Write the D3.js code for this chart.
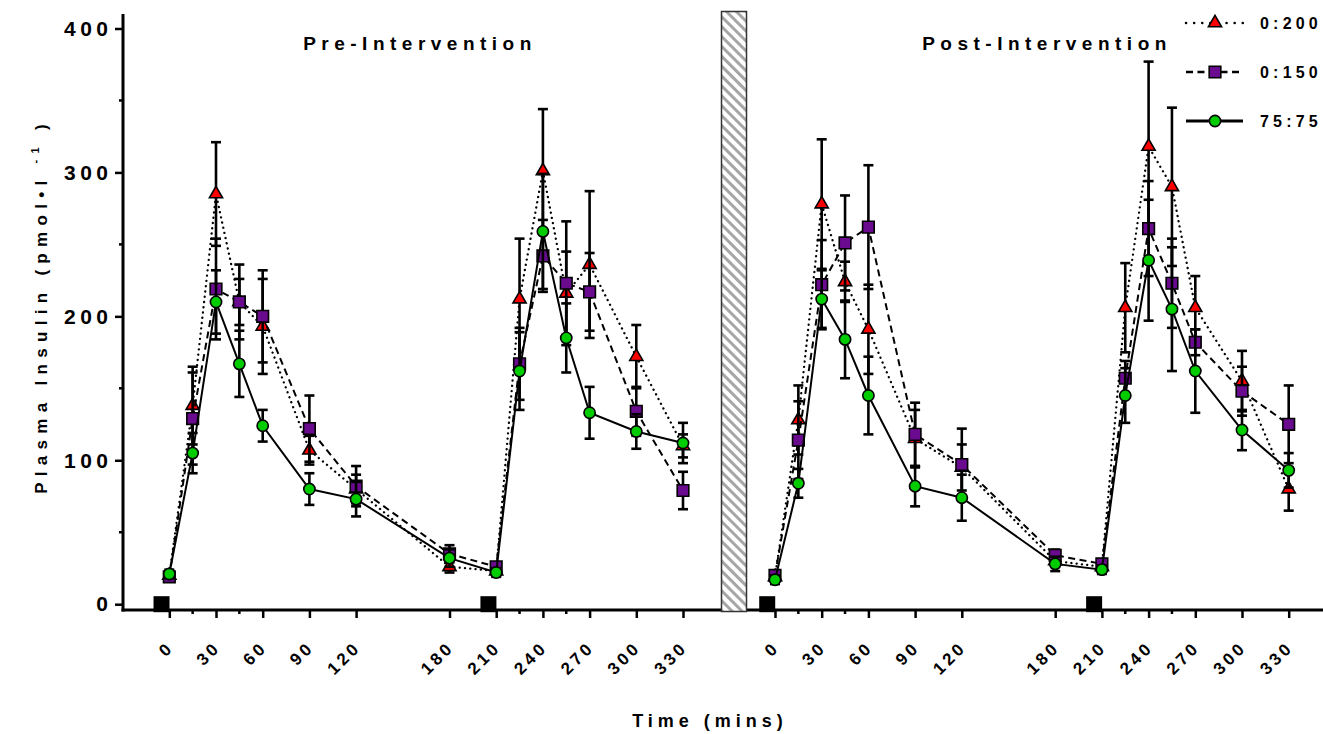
<!DOCTYPE html>
<html>
<head>
<meta charset="utf-8">
<script src="https://cdn.jsdelivr.net/npm/d3@7"></script>
<style>
  body { margin: 0; background: #fff; }
  text { font-family: "Liberation Sans", Arial, sans-serif; font-weight: bold; fill: #000; }
</style>
</head>
<body>
<div id="chart"></div>
<script>
// sampling times (mins)
const times = [0, 15, 30, 45, 60, 90, 120, 180, 210, 225, 240, 255, 270, 300, 330];
const tickTimes = [0, 30, 60, 90, 120, 180, 210, 240, 270, 300, 330];
const minorTimes = [15, 45, 225, 255];
const mealTimes = [-5, 205];
const yTicks = [0, 100, 200, 300, 400];
const yMinor = [50, 150, 250, 350];

// Pre-Intervention
const preTri     = [20, 138, 285, 210, 193, 107, 80, 26, 23, 212, 301, 216, 236, 172, 110];
const preTriSem  = [3, 27, 36, 16, 33, 10, 10, 4, 3, 42, 43, 29, 51, 22, 8];
const preSq      = [19, 129, 219, 210, 200, 122, 82, 35, 26, 167, 242, 223, 217, 134, 79];
const preSqSem   = [3, 32, 35, 26, 32, 23, 14, 6, 3, 25, 25, 43, 27, 17, 13];
const preCirc    = [21, 105, 210, 167, 124, 80, 73, 32, 22, 162, 259, 185, 133, 120, 112];
const preCircSem = [3, 14, 22, 23, 11, 11, 12, 6, 3, 27, 40, 24, 18, 12, 14];

// Post-Intervention
const postTri     = [19, 128, 278, 224, 191, 115, 95, 30, 26, 206, 318, 290, 206, 155, 80];
const postTriSem  = [3, 24, 45, 14, 31, 20, 16, 4, 3, 31, 59, 55, 22, 21, 15];
const postSq      = [20, 114, 222, 251, 262, 118, 97, 34, 28, 157, 261, 223, 182, 148, 125];
const postSqSem   = [3, 27, 31, 33, 43, 22, 25, 4, 3, 12, 33, 31, 9, 17, 27];
const postCirc    = [17, 84, 212, 184, 145, 82, 74, 28, 24, 145, 239, 205, 162, 121, 93];
const postCircSem = [3, 10, 20, 27, 27, 14, 16, 5, 3, 19, 42, 43, 29, 14, 12];

const seriesNames = ["0:200", "0:150", "75:75"];

const W = 1323, H = 734;
const svg = d3.select("#chart").append("svg")
    .attr("width", W).attr("height", H);

// hatch for the break bar
const defs = svg.append("defs");
defs.append("pattern")
    .attr("id", "hatch")
    .attr("patternUnits", "userSpaceOnUse")
    .attr("width", 7).attr("height", 7)
    .attr("patternTransform", "rotate(-45)")
  .append("rect")
    .attr("width", 3).attr("height", 7)
    .attr("fill", "#a6a6a6");

const y = d3.scaleLinear().domain([0, 400]).range([604.2, 28.5]);
const axisY = 610;

const xPre = d3.scaleLinear().domain([0, 330]).range([169.3, 683]);
const xPost = d3.scaleLinear().domain([0, 330]).range([775, 1288.7]);

const styles = [
  { dash: "0.1,5.2", cap: "round", sym: d3.symbolTriangle, size: 75, fill: "#ff0000" },
  { dash: "7,4.5",   cap: "butt",  sym: d3.symbolSquare,   size: 135, fill: "#6a0a8e" },
  { dash: null,      cap: "butt",  sym: d3.symbolCircle,   size: 100, fill: "#00cc00" }
];

function drawPanel(x, means, sems) {
  const g = svg.append("g");
  means.forEach((vals, si) => {
    const st = styles[si];
    const pts = times.map((t, i) => ({ t, v: vals[i], e: sems[si][i] }));
    const line = d3.line().x(d => x(d.t)).y(d => y(d.v));
    g.append("path")
        .datum(pts)
        .attr("d", line)
        .attr("fill", "none")
        .attr("stroke", "#000")
        .attr("stroke-width", si === 0 ? 2.3 : 2)
        .attr("stroke-linecap", st.cap)
        .attr("stroke-dasharray", st.dash);
    const eb = g.append("g").attr("stroke", "#000").attr("stroke-width", 2.6);
    pts.forEach(d => {
      const x0 = x(d.t), y1 = y(d.v + d.e), y2 = y(d.v - d.e);
      eb.append("line").attr("x1", x0).attr("x2", x0).attr("y1", y1).attr("y2", y2);
      eb.append("line").attr("x1", x0 - 5).attr("x2", x0 + 5).attr("y1", y1).attr("y2", y1);
      eb.append("line").attr("x1", x0 - 5).attr("x2", x0 + 5).attr("y1", y2).attr("y2", y2);
    });
    g.selectAll(null)
      .data(pts)
      .join("path")
        .attr("transform", d => `translate(${x(d.t)},${y(d.v)})`)
        .attr("d", d3.symbol().type(st.sym).size(st.size))
        .attr("fill", st.fill)
        .attr("stroke", "#000")
        .attr("stroke-width", 1.6);
  });
  // meal markers
  g.selectAll(null)
    .data(mealTimes)
    .join("rect")
      .attr("x", d => x(d) - 8)
      .attr("y", y(0) - 8)
      .attr("width", 16).attr("height", 16)
      .attr("fill", "#000");
}

function drawXAxis(x, x0, x1) {
  const gx = svg.append("g").attr("transform", `translate(0,${axisY})`);
  gx.call(d3.axisBottom(x).tickValues(tickTimes).tickSize(8).tickSizeOuter(0).tickFormat(d3.format("d")));
  gx.select(".domain").remove();
  gx.selectAll(".tick line").attr("stroke", "#000").attr("stroke-width", 2.5);
  gx.selectAll(".tick text")
      .attr("font-size", 17)
      .attr("letter-spacing", 3.5)
      .attr("text-anchor", "end")
      .attr("y", 0).attr("dy", "0.35em")
      .attr("transform", "translate(1,34) rotate(-45)");
  gx.selectAll(null)
    .data(minorTimes)
    .join("line")
      .attr("x1", d => x(d)).attr("x2", d => x(d))
      .attr("y1", 0).attr("y2", 4)
      .attr("stroke", "#000").attr("stroke-width", 2.5);
  gx.append("line")
      .attr("x1", x0).attr("x2", x1)
      .attr("y1", 0).attr("y2", 0)
      .attr("stroke", "#000").attr("stroke-width", 3);
}

drawPanel(xPre, [preTri, preSq, preCirc], [preTriSem, preSqSem, preCircSem]);
drawPanel(xPost, [postTri, postSq, postCirc], [postTriSem, postSqSem, postCircSem]);

drawXAxis(xPre, 121.5, 721);
drawXAxis(xPost, 746, 1323);

// y axis
const gy = svg.append("g").attr("transform", "translate(123,0)");
gy.call(d3.axisLeft(y).tickValues(yTicks).tickSize(8).tickSizeOuter(0));
gy.select(".domain").remove();
gy.selectAll(".tick line").attr("stroke", "#000").attr("stroke-width", 2.5);
gy.selectAll(".tick text")
    .attr("font-size", 21)
    .attr("letter-spacing", 4.5)
    .attr("x", -10.5);
gy.selectAll(null)
  .data(yMinor)
  .join("line")
    .attr("x1", -4).attr("x2", 0)
    .attr("y1", d => y(d)).attr("y2", d => y(d))
    .attr("stroke", "#000").attr("stroke-width", 2.5);
gy.append("line")
    .attr("x1", 0).attr("x2", 0)
    .attr("y1", y(410)).attr("y2", axisY + 1.5)
    .attr("stroke", "#000").attr("stroke-width", 3);

// break bar between panels
svg.append("rect")
    .attr("x", 721.5).attr("y", 11.5)
    .attr("width", 25).attr("height", 600)
    .attr("fill", "url(#hatch)")
    .attr("stroke", "#333")
    .attr("stroke-width", 1.5);

// panel titles
svg.append("text").attr("x", 420).attr("y", 50)
    .attr("text-anchor", "middle").attr("font-size", 19).attr("letter-spacing", 5.5)
    .text("Pre-Intervention");
svg.append("text").attr("x", 1047).attr("y", 50)
    .attr("text-anchor", "middle").attr("font-size", 19).attr("letter-spacing", 5.5)
    .text("Post-Intervention");

// axis titles
svg.append("text").attr("x", 710).attr("y", 727)
    .attr("text-anchor", "middle").attr("font-size", 18).attr("letter-spacing", 5)
    .text("Time (mins)");

const yl = svg.append("text")
    .attr("transform", "translate(47,306) rotate(-90)")
    .attr("text-anchor", "middle").attr("font-size", 17).attr("letter-spacing", 6.3);
yl.append("tspan").text("Plasma Insulin (pmol•l ");
yl.append("tspan").attr("font-size", 11).attr("dy", -8).text("-1");
yl.append("tspan").attr("dy", 8).text(" )");

// legend
const lg = svg.append("g");
seriesNames.forEach((name, i) => {
  const st = styles[i];
  const ly = 23 + i * 49;
  lg.append("line")
      .attr("x1", 1186).attr("x2", 1243)
      .attr("y1", ly).attr("y2", ly)
      .attr("stroke", "#000").attr("stroke-width", i === 2 ? 3 : 2.5)
      .attr("stroke-linecap", st.cap)
      .attr("stroke-dasharray", i === 0 ? "0.1,8" : st.dash);
  lg.append("path")
      .attr("transform", `translate(1215,${ly})`)
      .attr("d", d3.symbol().type(st.sym).size(st.size))
      .attr("fill", st.fill)
      .attr("stroke", "#000")
      .attr("stroke-width", 1.6);
  lg.append("text")
      .attr("x", 1260).attr("y", ly + 6)
      .attr("font-size", 16).attr("letter-spacing", 4.2)
      .text(name);
});
</script>
</body>
</html>
